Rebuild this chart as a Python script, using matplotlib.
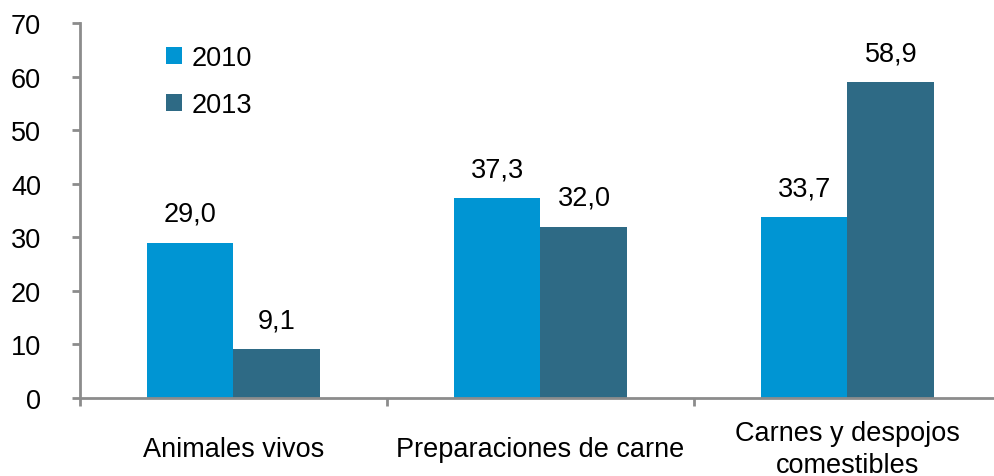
import numpy as np
import matplotlib.pyplot as plt

plt.rcParams["font.family"] = ["Liberation Sans", "DejaVu Sans"]
plt.rcParams["font.size"] = 19.5

categories = ["Animales vivos", "Preparaciones de carne", "Carnes y despojos\ncomestibles"]
years = ["2010", "2013"]
values_2010 = [29.0, 37.3, 33.7]
values_2013 = [9.1, 32.0, 58.9]
colors = ["#0095D3", "#2E6A85"]

fig = plt.figure(figsize=(9.95, 4.77), dpi=100)
ax = fig.add_axes([80 / 995, 78 / 477, 921 / 995, 375 / 477])

x = np.arange(len(categories))
w = 0.283
b1 = ax.bar(x - w / 2, values_2010, w, color=colors[0], label=years[0])
b2 = ax.bar(x + w / 2, values_2013, w, color=colors[1], label=years[1])

for bars, vals in [(b1, values_2010), (b2, values_2013)]:
    for r, v in zip(bars, vals):
        ax.annotate(f"{v:.1f}".replace(".", ","),
                    (r.get_x() + r.get_width() / 2, v),
                    xytext=(0, 21), textcoords="offset points",
                    ha="center", va="center")

ax.set_xlim(-0.5, 2.5)
ax.set_ylim(0, 70)
ax.set_yticks(range(0, 71, 10))

# boundaries get tick marks, centres get the labels
ax.set_xticks([-0.5, 0.5, 1.5, 2.5])
ax.set_xticklabels([])
ax.set_xticks(x, minor=True)
ax.set_xticklabels(categories, minor=True)
ax.tick_params(axis="x", which="minor", length=0, pad=36.5)
for lab in ax.get_xticklabels(minor=True):
    lab.set_verticalalignment("center")
    lab.set_linespacing(1.3)

grey = "#8C8C8C"
ax.tick_params(axis="x", which="major", length=6, width=2, color=grey)
ax.tick_params(axis="y", length=6, width=2, color=grey, pad=22)
for s in ["top", "right"]:
    ax.spines[s].set_visible(False)
for s in ["left", "bottom"]:
    ax.spines[s].set_color(grey)
    ax.spines[s].set_linewidth(2)

ax.legend(loc="upper left", bbox_to_anchor=(0.067, 1.006), frameon=False,
          handlelength=0.6, handleheight=0.6, handletextpad=0.35,
          labelspacing=0.77)

fig.savefig("out.png", dpi=100)
